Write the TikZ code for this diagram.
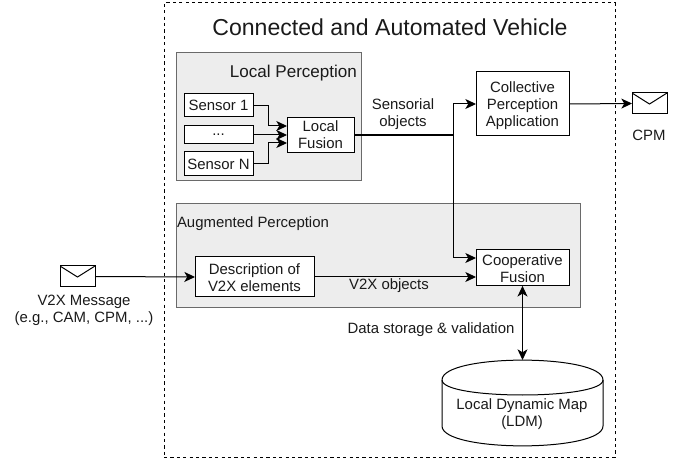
\documentclass[tikz,border=0pt]{standalone}
\usepackage{fontspec}
\setmainfont{Liberation Sans}
\usetikzlibrary{arrows.meta,calc}
\definecolor{panelfill}{HTML}{EDEDED}
\definecolor{panelline}{HTML}{6A6A6A}
\definecolor{ink}{HTML}{1A1A1A}
\newcommand{\topgap}[1]{\rule{0pt}{#1pt}}
\newcommand{\botgap}{\rule[-2.5pt]{0pt}{2.5pt}}
\tikzset{
  x=0.75pt,y=-0.75pt,
  every node/.style={font=\fontsize{11.2}{12.75}\selectfont,text=ink,inner sep=0pt,outer sep=0pt},
  tip/.style={-{Stealth[length=8pt,width=7.5pt,inset=2.2pt]}},
  conn/.style={draw=black,line width=0.75pt},
  panel/.style={draw=panelline,fill=panelfill,line width=0.75pt,anchor=north west},
  boxn/.style={draw=black,fill=white,line width=0.75pt,align=center},
  lab/.style={align=center},
  envelope/.style={draw=black,fill=white,line width=0.75pt,minimum width=26.25pt,minimum height=15.75pt,
    path picture={\draw[line width=0.75pt] (path picture bounding box.north west) -- ($(path picture bounding box.center)+(0,-0.4pt)$) -- (path picture bounding box.north east);}},
}
\begin{document}
\begin{tikzpicture}
\useasboundingbox (0,0) rectangle (685,459);
\node[draw=black,line width=0.75pt,dash pattern=on 2.4pt off 2.4pt,minimum width=338.25pt,minimum height=340.5pt,anchor=north west] (outer) at (164,3) {};
\node[font=\fontsize{17.3}{20}\selectfont] (title) at (390,27) {Connected and Automated Vehicle};
\node[panel,minimum width=138.75pt,minimum height=96pt] (lp) at (176,53) {};
\node[anchor=east,font=\fontsize{12.8}{15}\selectfont] (lpt) at (357,73.5) {Local Perception};
\node[panel,minimum width=303pt,minimum height=78pt] (ap) at (176,204) {};
\node[anchor=west] (apt) at (177,224) {Augmented Perception};
\node[boxn,minimum width=51.75pt,minimum height=17.25pt] (s1) at (218.5,105.5) {Sensor 1};
\node[boxn,minimum width=51.75pt,minimum height=13.5pt] (sd) at (218.5,135) {...};
\node[boxn,minimum width=51.75pt,minimum height=18pt] (sn) at (218.5,164) {Sensor N};
\node[boxn,minimum width=50.25pt,minimum height=25.5pt] (lf) at (320.5,135) {\topgap{10.5}Local\\Fusion\botgap};
\node[boxn,minimum width=69.75pt,minimum height=48pt] (cp) at (522.5,104) {\topgap{10.5}Collective\\Perception\\Application\botgap};
\node[boxn,minimum width=89.25pt,minimum height=30pt] (de) at (254.5,277) {\topgap{11.3}Description of\\V2X elements\botgap};
\node[boxn,minimum width=69.75pt,minimum height=26.25pt] (cf) at (522.5,267.5) {\topgap{12.3}Cooperative\\Fusion\botgap};
\node[envelope] (e1) at (77.5,276.5) {};
\node[envelope] (e2) at (649.5,103.5) {};
\node[lab] (e1t) at (84,310) {V2X Message\\(e.g., CAM, CPM, ...)};
\node[lab] (e2t) at (649,135) {CPM};
\node[lab] (sot) at (403,114.5) {Sensorial\\objects};
\node[lab] (v2t) at (389,286) {V2X objects};
\node[lab] (dst) at (431,330) {Data storage \& validation};
% LDM cylinder
\coordinate (ldmtop) at (522.5,360);
\draw[line width=0.75pt,fill=white] (442,380) .. controls (442,353.5) and (603,353.5) .. (603,380)
  -- (603,426) .. controls (603,452.5) and (442,452.5) .. (442,426) -- cycle;
\draw[line width=0.75pt] (442,380) .. controls (442,400) and (603,400) .. (603,380);
\node[lab] (ldm) at (522,414.5) {Local Dynamic Map\\(LDM)};
% connectors
\coordinate (lfa) at (287,126);
\coordinate (lfb) at (287,143);
\coordinate (jn) at (453,135);
\coordinate (cfa) at (476,258);
\coordinate (cfb) at (476,277);
\draw[conn,tip] (s1.east) -- (268,105.5) |- (lfa);
\draw[conn,tip] (sd.east) -- (lf.west);
\draw[conn,tip] (sn.east) -- (268,164) |- (lfb);
\draw[conn,line width=1.2pt] (lf.east) -- (jn);
\draw[conn,tip] (jn) |- (cp.west);
\draw[conn,tip] (jn) |- (cfa);
\draw[conn,tip] (cp.east) -- (e2.west);
\draw[conn,tip] (e1.east) -- (de.west);
\draw[conn,tip] (de.east) -- (cfb);
\draw[conn,{Stealth[length=8pt,width=7.5pt,inset=2.2pt]}-{Stealth[length=8pt,width=7.5pt,inset=2.2pt]}] (cf.south) -- (ldmtop);
\end{tikzpicture}
\end{document}
